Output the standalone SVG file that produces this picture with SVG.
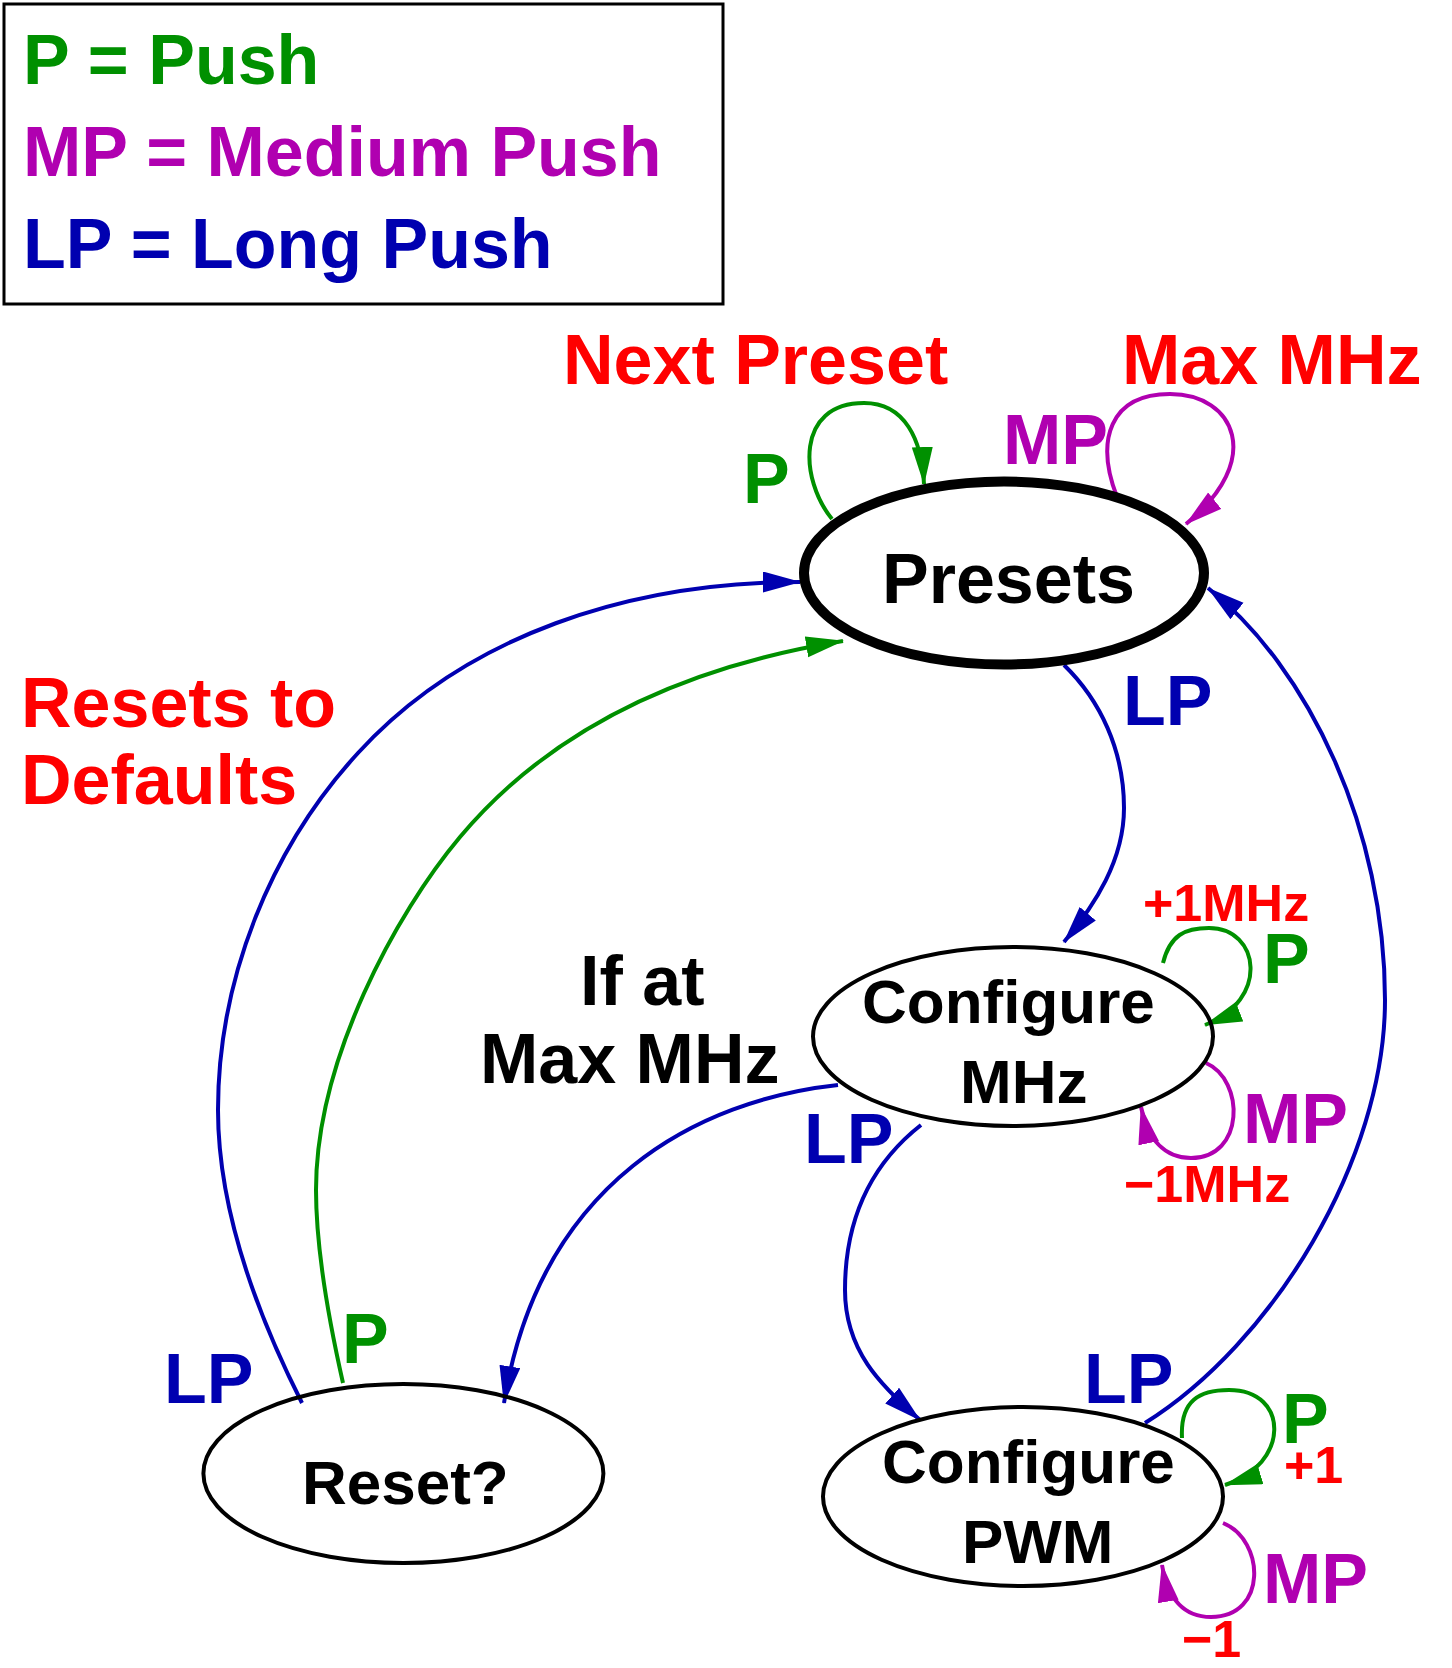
<svg xmlns="http://www.w3.org/2000/svg" width="1452" height="1668" viewBox="0 0 1452 1668">
<style>
text{font-family:"Liberation Sans",Arial,Helvetica,sans-serif;font-weight:bold}
.big{font-size:70px}
.node{font-size:62px;fill:#000}
.small{font-size:52px;fill:#ff0000}
.red{fill:#ff0000}
.grn{fill:#009000}
.mag{fill:#b000b0}
.blu{fill:#0000b0}
.blk{fill:#000}
.el{fill:none;stroke:#000;stroke-width:4}
.cb{fill:none;stroke:#0000b0;stroke-width:4}
.cg{fill:none;stroke:#009000;stroke-width:4}
.cm{fill:none;stroke:#b000b0;stroke-width:4}
</style>
<defs>
<marker id="ab" markerUnits="userSpaceOnUse" markerWidth="40" markerHeight="22" refX="37" refY="10.5" orient="auto"><path d="M0,0 L38,10.5 L0,21 Z" fill="#0000b0"/></marker>
<marker id="ag" markerUnits="userSpaceOnUse" markerWidth="40" markerHeight="22" refX="37" refY="10.5" orient="auto"><path d="M0,0 L38,10.5 L0,21 Z" fill="#009000"/></marker>
<marker id="am" markerUnits="userSpaceOnUse" markerWidth="40" markerHeight="22" refX="37" refY="10.5" orient="auto"><path d="M0,0 L38,10.5 L0,21 Z" fill="#b000b0"/></marker>
</defs>
<rect width="1452" height="1668" fill="#fff"/>
<g id="legend">
<rect x="4" y="4" width="719" height="300" fill="none" stroke="#000" stroke-width="3"/>
<text class="big grn" x="23" y="84">P = Push</text>
<text class="big mag" x="23" y="176">MP = Medium Push</text>
<text class="big blu" x="23" y="268">LP = Long Push</text>
</g>
<g id="connectors">
<path class="cb" marker-end="url(#ab)" d="M 302 1403 C 257 1314 218 1210 218 1110 C 218 980 270 848.7 358 753 C 466 635 630 582 800 582"/>
<path class="cg" marker-end="url(#ag)" d="M 343 1383 C 329.8 1324.5 316 1250 316 1190 C 316 1060 395.7 913.6 460 837 C 556.5 722.1 695 665 843 641"/>
<path class="cb" marker-end="url(#ab)" d="M 1064 665 C 1100 700 1124 750 1124 808 C 1124 860 1095 905 1064 942"/>
<path class="cb" marker-end="url(#ab)" d="M 838 1085 C 700 1100 540 1180 504 1403"/>
<path class="cb" marker-end="url(#ab)" d="M 921 1125 C 870 1165 845 1220 845 1290 C 845 1350 880 1385 920 1420"/>
<path class="cb" marker-end="url(#ab)" d="M 1145 1423 C 1272.5 1343.5 1385 1160 1385 1000 C 1385 830 1309.4 668.6 1208 588"/>
<path class="cg" marker-end="url(#ag)" d="M 832 519 C 800 480 795 403 864 403 C 905 403 922 440 924 484"/>
<path class="cm" marker-end="url(#am)" d="M 1117 497 C 1095 440 1110 394 1170 394 C 1235 394 1265 460 1186 524"/>
<path class="cg" marker-end="url(#ag)" d="M 1163 963 C 1170 935 1185 928 1209 928 C 1260 928 1270 1000 1205 1025"/>
<path class="cm" marker-end="url(#am)" d="M 1206 1063 C 1245 1080 1245 1158 1191 1158 C 1165 1158 1148 1140 1141 1107"/>
<path class="cg" marker-end="url(#ag)" d="M 1182 1438 C 1180 1400 1200 1390 1229 1390 C 1290 1390 1290 1465 1225 1485"/>
<path class="cm" marker-end="url(#am)" d="M 1223 1523 C 1265 1540 1268 1617 1211 1617 C 1185 1617 1168 1600 1162 1565"/>
</g>
<g id="presets">
<ellipse cx="1004" cy="573" rx="200" ry="91.5" fill="none" stroke="#000" stroke-width="10"/>
<text class="big blk" x="882" y="603">Presets</text>
</g>
<g id="configure-mhz">
<ellipse class="el" cx="1013" cy="1036.5" rx="200" ry="89.5"/>
<text class="node" x="862" y="1023">Configure</text>
<text class="node" x="960" y="1103">MHz</text>
</g>
<g id="configure-pwm">
<ellipse class="el" cx="1023" cy="1496.5" rx="200" ry="89.5"/>
<text class="node" x="882" y="1483">Configure</text>
<text class="node" x="962" y="1563">PWM</text>
</g>
<g id="reset">
<ellipse class="el" cx="403.4" cy="1473.5" rx="200" ry="89.5"/>
<text class="node" x="302" y="1504">Reset?</text>
</g>
<g id="labels">
<text class="big red" x="563" y="384">Next Preset</text>
<text class="big red" x="1122" y="384">Max MHz</text>
<text class="big red" x="21" y="727">Resets to</text>
<text class="big red" x="21" y="804">Defaults</text>
<text class="big blk" x="580" y="1005">If at</text>
<text class="big blk" x="480" y="1083">Max MHz</text>
<text class="big grn" x="743" y="503">P</text>
<text class="big mag" x="1003" y="464">MP</text>
<text class="big blu" x="1123" y="725">LP</text>
<text class="small" x="1143" y="921">+1MHz</text>
<text class="big grn" x="1263" y="983">P</text>
<text class="big mag" x="1243" y="1143">MP</text>
<text class="small" x="1124" y="1202">−1MHz</text>
<text class="big blu" x="804" y="1163">LP</text>
<text class="big blu" x="1084" y="1403">LP</text>
<text class="big grn" x="1282" y="1443">P</text>
<text class="small" x="1284" y="1483">+1</text>
<text class="big mag" x="1263" y="1603">MP</text>
<text class="small" x="1182" y="1657">−1</text>
<text class="big blu" x="164" y="1403">LP</text>
<text class="big grn" x="342" y="1363">P</text>
</g>
</svg>
